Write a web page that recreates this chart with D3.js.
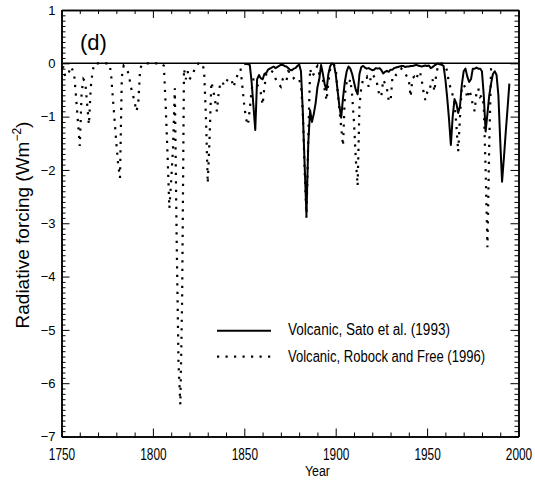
<!DOCTYPE html>
<html>
<head>
<meta charset="utf-8">
<script src="https://cdn.jsdelivr.net/npm/d3@7"></script>
<style>
  html, body { margin: 0; padding: 0; background: #fff; }
  svg { display: block; }
  text { font-family: "Liberation Sans", Arial, Helvetica, sans-serif; fill: #000; }
</style>
</head>
<body>
<svg id="chart" width="535" height="480"></svg>
<script>
// Volcanic radiative forcing (W m-2), annual values.

// Robock and Free (1996), 1750-1986
const roYears = d3.range(1750, 1987);
const roValues = [
  -0.10, -0.08, -0.25, -0.22, -0.18, -0.06, -0.12, -0.23, -0.65, -1.10, // 1750s
  -1.55, -0.55, -0.30, -0.35, -0.75, -1.15, -0.45, -0.15,  0.00,  0.00, // 1760s
   0.00,  0.00,  0.00,  0.00,  0.00,  0.00,  0.00, -0.15, -0.60, -1.05, // 1770s
  -1.50, -1.90, -2.15, -0.25, -0.05, -0.10, -0.12, -0.25, -0.45, -0.58, // 1780s
  -0.73, -0.90, -0.75, -0.10, -0.03,  0.00,  0.00,  0.00,  0.00,  0.00, // 1790s
   0.00,  0.00,  0.00,  0.00,  0.00,  0.00, -0.05, -0.80, -1.70, -2.72, // 1800s
  -2.20, -1.60, -0.47, -3.30, -5.60, -6.40, -4.40, -0.10, -0.30, -0.15, // 1810s
  -0.30, -0.25, -0.20, -0.08, -0.03,  0.00,  0.00,  0.00, -0.13, -1.00, // 1820s
  -2.25, -1.40, -0.35, -0.50, -0.70, -0.90, -0.55, -0.35, -0.35, -0.42, // 1830s
  -0.35, -0.30, -0.28, -0.30, -0.45, -0.35, -0.25, -0.12, -0.12, -0.45, // 1840s
  -0.80, -1.05, -1.16, -0.85, -0.50, -0.30, -0.30, -0.40, -0.45, -0.55, // 1850s
  -0.78, -0.45, -0.20, -0.15, -0.13, -0.15, -0.17, -0.28, -0.35, -0.40, // 1860s
  -0.44, -0.30, -0.28, -0.34, -0.15, -0.17, -0.20, -0.28, -0.25, -0.28, // 1870s
  -0.31, -0.40, -0.90, -2.00, -2.90, -1.40, -0.10, -0.25, -0.20, -0.10, // 1880s
  -0.05, -0.20, -0.25, -0.30, -0.50, -0.70, -0.35, -0.10, -0.02, -0.02, // 1890s
  -0.10, -0.50, -0.85, -1.20, -1.55, -0.60, -0.35, -0.40, -0.30, -0.60, // 1900s
  -1.10, -1.80, -2.30, -0.80, -0.45, -0.30, -0.28, -0.25, -0.44, -0.30, // 1910s
  -0.20, -0.25, -0.28, -0.44, -0.63, -0.60, -0.31, -0.38, -0.47, -0.69, // 1920s
  -0.72, -0.28, -0.20, -0.22, -0.19, -0.15, -0.10, -0.15, -0.19, -0.25, // 1930s
  -0.31, -0.63, -0.28, -0.25, -0.31, -0.20, -0.15, -0.30, -0.53, -0.69, // 1940s
  -0.55, -0.56, -0.40, -0.30, -0.53, -0.20, -0.05,  0.00,  0.00, -0.02, // 1950s
  -0.05, -0.15, -0.38, -0.47, -0.60, -0.75, -1.15, -1.66, -1.00, -0.45, // 1960s
  -0.40, -0.47, -0.66, -0.50, -0.60, -0.78, -0.90, -0.55, -0.47, -0.63, // 1970s
  -0.60, -0.80, -2.00, -3.45, -1.50, -0.10,  0.00                       // 1980s
];

// Sato et al. (1993), 1850-1995
const satoYears = d3.range(1850, 1996);
const satoValues = [
  -0.02, -0.01, -0.02, -0.03, -0.35, -0.80, -1.25, -0.30, -0.22, -0.28, // 1850s
  -0.30, -0.20, -0.18, -0.12, -0.10, -0.08, -0.06, -0.09, -0.07, -0.05, // 1860s
  -0.03, -0.03, -0.05, -0.06, -0.09, -0.12, -0.13, -0.10, -0.09, -0.05, // 1870s
  -0.02, -0.15, -0.90, -1.90, -2.85, -1.50, -0.88, -1.10, -0.95, -0.75, // 1880s
  -0.45, -0.30, -0.03, -0.20, -0.40, -0.50, -0.20, -0.05,  0.00, -0.02, // 1890s
  -0.20, -0.50, -0.80, -1.02, -0.65, -0.35, -0.15, -0.06, -0.10, -0.20, // 1900s
  -0.35, -0.50, -0.58, -0.20, -0.07, -0.05, -0.08, -0.10, -0.09, -0.11, // 1910s
  -0.13, -0.12, -0.09, -0.10, -0.09, -0.13, -0.19, -0.16, -0.14, -0.16, // 1920s
  -0.12, -0.12, -0.09, -0.08, -0.07, -0.06, -0.05, -0.05, -0.07, -0.06, // 1930s
  -0.06, -0.05, -0.05, -0.04, -0.03, -0.04, -0.05, -0.06, -0.05, -0.04, // 1940s
  -0.05, -0.04, -0.09, -0.07, -0.04, -0.02,  0.00, -0.02, -0.03, -0.05, // 1950s
  -0.30, -0.65, -1.05, -1.53, -1.00, -0.67, -0.75, -0.93, -0.80, -0.40, // 1960s
  -0.15, -0.10, -0.25, -0.35, -0.30, -0.10, -0.10, -0.08, -0.10, -0.10, // 1970s
  -0.15, -0.60, -1.28, -0.95, -0.60, -0.38, -0.20, -0.15, -0.22, -0.60, // 1980s
  -1.45, -2.22, -1.78, -1.30, -0.85, -0.38                              // 1990s
];

// Axis ticks and labels
const xMajorTicks = [1750, 1800, 1850, 1900, 1950, 2000];
const xMinorTicks = [1760, 1770, 1780, 1790, 1810, 1820, 1830, 1840, 1860, 1870, 1880, 1890,
                     1910, 1920, 1930, 1940, 1960, 1970, 1980, 1990];
const yMajorTicks = [-7, -6, -5, -4, -3, -2, -1, 0, 1];
const yMinorTicks = d3.range(-70, 11).filter(v => v % 10 !== 0).map(v => v / 10);

const panelLabel = "(d)";
const xTitle = "Year";
const legendLabels = ["Volcanic, Sato et al. (1993)", "Volcanic, Robock and Free (1996)"];

// ---- layout ----
const svg = d3.select("#chart");
const plotLeft = 61.5, plotRight = 518.5, plotTop = 10, plotBottom = 436.5;

const x = d3.scaleLinear().domain([1750, 2000]).range([plotLeft, plotRight]);
const y = d3.scaleLinear().domain([-7, 1]).range([plotBottom, plotTop]);

const axisStroke = g => {
  g.selectAll(".domain").attr("stroke", "#000").attr("stroke-width", 1.5);
  g.selectAll(".tick line").attr("stroke", "#000").attr("stroke-width", 1);
};

// minor ticks (inward, all four sides)
svg.append("g").attr("transform", `translate(0,${plotBottom})`)
  .call(d3.axisBottom(x).tickValues(xMinorTicks).tickSize(-4).tickSizeOuter(0).tickFormat(""))
  .call(axisStroke);
svg.append("g").attr("transform", `translate(0,${plotTop})`)
  .call(d3.axisTop(x).tickValues(xMinorTicks).tickSize(-4).tickSizeOuter(0).tickFormat(""))
  .call(axisStroke);
svg.append("g").attr("transform", `translate(${plotLeft},0)`)
  .call(d3.axisLeft(y).tickValues(yMinorTicks).tickSize(-4).tickSizeOuter(0).tickFormat(""))
  .call(axisStroke);
svg.append("g").attr("transform", `translate(${plotRight},0)`)
  .call(d3.axisRight(y).tickValues(yMinorTicks).tickSize(-4).tickSizeOuter(0).tickFormat(""))
  .call(axisStroke);

// major ticks
const xAxisG = svg.append("g").attr("transform", `translate(0,${plotBottom})`)
  .call(d3.axisBottom(x).tickValues(xMajorTicks).tickSize(-8).tickSizeOuter(0)
        .tickPadding(12).tickFormat(d3.format("d")))
  .call(axisStroke);
// narrow year labels: squeeze horizontally around each tick's centre
xAxisG.selectAll("text")
  .attr("font-size", 16)
  .attr("transform", "scale(0.74,1)");

svg.append("g").attr("transform", `translate(0,${plotTop})`)
  .call(d3.axisTop(x).tickValues(xMajorTicks).tickSize(-8).tickSizeOuter(0).tickFormat(""))
  .call(axisStroke);

const yAxisG = svg.append("g").attr("transform", `translate(${plotLeft},0)`)
  .call(d3.axisLeft(y).tickValues(yMajorTicks).tickSize(-8).tickSizeOuter(0)
        .tickPadding(6).tickFormat(d3.format("d")))
  .call(axisStroke);
yAxisG.selectAll("text").attr("font-size", 13);

svg.append("g").attr("transform", `translate(${plotRight},0)`)
  .call(d3.axisRight(y).tickValues(yMajorTicks).tickSize(-8).tickSizeOuter(0).tickFormat(""))
  .call(axisStroke);

svg.selectAll(".tick text").attr("fill", "#000").style("font-family", "'Liberation Sans', Arial, sans-serif");

// zero line
svg.append("line")
  .attr("x1", x(1750)).attr("x2", x(2000))
  .attr("y1", y(0)).attr("y2", y(0))
  .attr("stroke", "#000").attr("stroke-width", 1.5);

// series
const line = d3.line().x(d => x(d[0])).y(d => y(d[1]));
const dottedStyle = { width: 2.2, dash: "2.2,6.3" };

svg.append("path")
  .datum(roYears.map((yr, i) => [yr, roValues[i]]))
  .attr("fill", "none").attr("stroke", "#000")
  .attr("stroke-width", dottedStyle.width)
  .attr("stroke-dasharray", dottedStyle.dash)
  .attr("d", line);

svg.append("path")
  .datum(satoYears.map((yr, i) => [yr, satoValues[i]]))
  .attr("fill", "none").attr("stroke", "#000")
  .attr("stroke-width", 2)
  .attr("stroke-linejoin", "round")
  .attr("d", line);

// panel label
svg.append("text").attr("x", 80).attr("y", 50)
  .attr("font-size", 22).text(panelLabel);

// axis titles
svg.append("text")
  .attr("x", x(1890)).attr("y", 476)
  .attr("text-anchor", "middle").attr("font-size", 14)
  .attr("textLength", 25).attr("lengthAdjust", "spacingAndGlyphs")
  .text(xTitle);

const yTitle = svg.append("text")
  .attr("transform", "translate(28.5,225) rotate(-90)")
  .attr("text-anchor", "middle").attr("font-size", 19);
yTitle.append("tspan").text("Radiative forcing (Wm");
yTitle.append("tspan").attr("font-size", 12).attr("dy", -8).text("\u22122");
yTitle.append("tspan").attr("dy", 8).text(")");

// legend
const legend = svg.append("g");
const legendRows = [
  { label: legendLabels[0], y: 330.7, dash: null, width: 2, textY: 335, len: 162 },
  { label: legendLabels[1], y: 356.7, dash: dottedStyle.dash, width: dottedStyle.width, textY: 362, len: 197 }
];
legendRows.forEach(r => {
  legend.append("line")
    .attr("x1", 217).attr("x2", 271).attr("y1", r.y).attr("y2", r.y)
    .attr("stroke", "#000").attr("stroke-width", r.width)
    .attr("stroke-dasharray", r.dash);
  legend.append("text")
    .attr("x", 288).attr("y", r.textY).attr("font-size", 16)
    .attr("textLength", r.len).attr("lengthAdjust", "spacingAndGlyphs")
    .text(r.label);
});
</script>
</body>
</html>
